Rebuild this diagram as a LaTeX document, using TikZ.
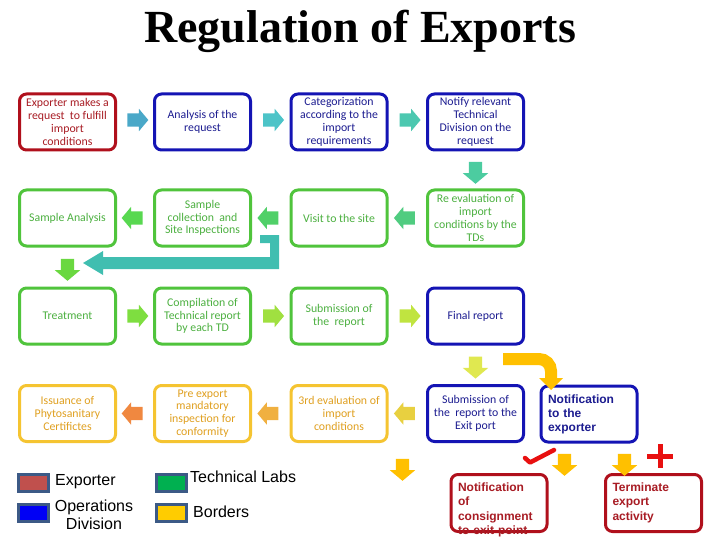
\documentclass[tikz,border=0pt]{standalone}
\usepackage{fontspec}
\setmainfont{Carlito}
\newfontfamily\arialf{Liberation Sans}
\newfontfamily\titlef{Liberation Serif}
\usetikzlibrary{shapes.arrows,calc}
\definecolor{redb}{HTML}{B0101C}
\definecolor{redt}{HTML}{A81C24}
\definecolor{blueb}{HTML}{1414B4}
\definecolor{bluet}{HTML}{1C1C90}
\definecolor{greenb}{HTML}{50C43C}
\definecolor{greent}{HTML}{4CB040}
\definecolor{yellowb}{HTML}{F5C431}
\definecolor{yellowt}{HTML}{E0A020}
\definecolor{legb}{HTML}{3C5A86}
\definecolor{gold}{HTML}{FFC000}
\definecolor{signred}{HTML}{E81010}
\tikzset{
  boxbase/.style={draw, rounded corners=7pt, line width=3pt, minimum width=96pt, minimum height=56pt,
    align=center, inner sep=1pt, font=\fontsize{11.8}{12.8}\selectfont},
  redbox/.style={boxbase, draw=redb, text=redt},
  bluebox/.style={boxbase, draw=blueb, text=bluet},
  greenbox/.style={boxbase, draw=greenb, text=greent},
  yellowbox/.style={boxbase, draw=yellowb, text=yellowt},
  bottombox/.style={draw=redb, text=redt, rounded corners=7pt, line width=3pt, minimum width=96pt,
    minimum height=57pt, text width=82pt, align=left, inner sep=0pt, text height=17pt, text depth=40pt,
    font=\arialf\bfseries\fontsize{12}{14.3}\selectfont},
  blk/.style={single arrow, draw=none, inner xsep=0pt, inner ysep=6.5pt, minimum height=21pt, minimum width=0pt,
    single arrow head extend=4.5pt, single arrow tip angle=100},
  rarrow/.style={blk, shape border rotate=0},
  larrow/.style={blk, shape border rotate=180},
  darrow/.style={blk, shape border rotate=270, inner xsep=6.5pt, inner ysep=6.5pt, minimum height=22pt, single arrow head extend=6pt},
  swatch/.style={draw=legb, line width=3pt, minimum width=30pt, minimum height=17pt, inner sep=0pt},
  legtext/.style={font=\arialf\fontsize{16}{18}\selectfont, inner sep=0pt}
}
\begin{document}
\begin{tikzpicture}[x=1pt,y=-1pt]
\fill[white] (0,0) rectangle (720,540);
\useasboundingbox (0,0) rectangle (720,540);

\node[font=\titlef\bfseries\fontsize{46}{50}\selectfont, anchor=base, inner sep=0pt] (title) at (360,43) {Regulation of Exports};

% row 1
\node[redbox] (a1) at (67.5,122) {Exporter makes a\\request\ \ to fulfill\\import\\conditions};
\node[bluebox] (a2) at (202.5,122) {Analysis of the\\request};
\node[bluebox] (a3) at (339,122) {Categorization\\according to the\\import\\requirements};
\node[bluebox] (a4) at (475.5,122) {Notify relevant\\Technical\\Division on the\\request};
% row 2
\node[greenbox] (b1) at (67.5,218) {Sample Analysis};
\node[greenbox] (b2) at (202.5,218) {Sample\\collection\ \ and\\Site Inspections};
\node[greenbox] (b3) at (339,218) {Visit to the site};
\node[greenbox] (b4) at (475.5,218) {Re evaluation of\\import\\conditions by the\\TDs};
% row 3
\node[greenbox] (c1) at (67.5,316) {Treatment};
\node[greenbox] (c2) at (202.5,316) {Compilation of\\Technical report\\by each TD};
\node[greenbox] (c3) at (339,316) {Submission of\\the\ \ report};
\node[bluebox] (c4) at (475.5,316) {Final report};
% row 4
\node[yellowbox] (d1) at (67.5,413.5) {Issuance of\\Phytosanitary\\Certifictes};
\node[yellowbox] (d2) at (202.5,413.5) {Pre export\\mandatory\\inspection for\\conformity};
\node[yellowbox] (d3) at (339,413.5) {3rd evaluation of\\import\\conditions};
\node[bluebox] (d4) at (475.5,413.5) {Submission of\\the\ \ report to the\\Exit port};

% notification boxes
\node[bluebox, align=left, text width=82pt, font=\arialf\bfseries\fontsize{12}{14}\selectfont] (nx) at (589,414) {Notification\\to the\\exporter};
\node[bottombox] (nc) at (499,503) {Notification\\of\\consignment\\to exit point};
\node[bottombox] (nt) at (653.5,503) {Terminate\\export\\activity};

% block arrows row 1
\node[rarrow, fill={rgb,255:red,74;green,168;blue,200}] (x12) at ($(a1.east)!0.5!(a2.west)+(0,-2)$) {};
\node[rarrow, fill={rgb,255:red,77;green,196;blue,200}] (x23) at ($(a2.east)!0.5!(a3.west)+(0,-2)$) {};
\node[rarrow, fill={rgb,255:red,76;green,200;blue,176}] (x34) at ($(a3.east)!0.5!(a4.west)+(0,-2)$) {};
\node[darrow, fill={rgb,255:red,76;green,204;blue,160}] (x4d) at ($(a4.south)!0.5!(b4.north)$) {};
% row 2
\node[larrow, fill={rgb,255:red,80;green,204;blue,128}] (y43) at ($(b4.west)!0.5!(b3.east)$) {};
\node[larrow, fill={rgb,255:red,80;green,208;blue,104}] (y32) at ($(b3.west)!0.5!(b2.east)$) {};
\node[larrow, fill={rgb,255:red,88;green,216;blue,80}] (y21) at ($(b2.west)!0.5!(b1.east)$) {};
\node[darrow, fill={rgb,255:red,106;green,216;blue,64}] (y1d) at ($(b1.south)!0.5!(c1.north)$) {};
% big bent arrow
\fill[fill={rgb,255:red,64;green,190;blue,176}] (260,235) -- (279,235) -- (279,269) -- (103,269) -- (103,275)
  -- (83,263) -- (103,251) -- (103,257) -- (270,257) -- (270,243) -- (260,243) -- cycle;
% row 3
\node[rarrow, fill={rgb,255:red,126;green,222;blue,64}] (z12) at ($(c1.east)!0.5!(c2.west)$) {};
\node[rarrow, fill={rgb,255:red,160;green,224;blue,64}] (z23) at ($(c2.east)!0.5!(c3.west)$) {};
\node[rarrow, fill={rgb,255:red,192;green,228;blue,64}] (z34) at ($(c3.east)!0.5!(c4.west)$) {};
\node[darrow, fill={rgb,255:red,224;green,232;blue,80}] (z4d) at ($(c4.south)!0.5!(d4.north)$) {};
% row 4
\node[larrow, fill={rgb,255:red,232;green,208;blue,64}] (w43) at ($(d4.west)!0.5!(d3.east)$) {};
\node[larrow, fill={rgb,255:red,240;green,176;blue,64}] (w32) at ($(d3.west)!0.5!(d2.east)$) {};
\node[larrow, fill={rgb,255:red,240;green,136;blue,64}] (w21) at ($(d2.west)!0.5!(d1.east)$) {};

% yellow arrows
\draw[gold, line width=12pt, rounded corners=12pt] (503,359) -- (551,359) -- (551,379);
\fill[gold] (539,378) -- (563,378) -- (551,390) -- cycle;
\node[darrow, fill=gold] (g1) at (402.5,467) {};
\node[darrow, fill=gold] (g2) at (564.5,462) {};
\node[darrow, fill=gold] (g3) at (624.5,462) {};

% check and plus
\draw[signred, line width=4.5pt, line cap=round, line join=round] (525,458) -- (530,462.5) -- (554,450);
\draw[signred, line width=5pt] (647,456) -- (673,456);
\draw[signred, line width=5pt] (660,444) -- (660,468);

% legend
\node[swatch, fill={rgb,255:red,192;green,80;blue,77}] (s1) at (33.5,483) {};
\node[swatch, fill={rgb,255:red,0;green,0;blue,245}] (s2) at (33.5,513) {};
\node[swatch, fill={rgb,255:red,0;green,176;blue,80}] (s3) at (171.5,483) {};
\node[swatch, fill={rgb,255:red,255;green,204;blue,0}] (s4) at (171.5,513) {};
\node[legtext, anchor=west] (l1) at (55,482) {Exporter};
\node[legtext, align=center, font=\arialf\fontsize{16}{18}\selectfont] (l2) at (94,515) {Operations\\Division};
\node[legtext, anchor=west] (l3) at (190,477) {Technical Labs};
\node[legtext, anchor=west] (l4) at (193,512) {Borders};
\end{tikzpicture}
\end{document}
